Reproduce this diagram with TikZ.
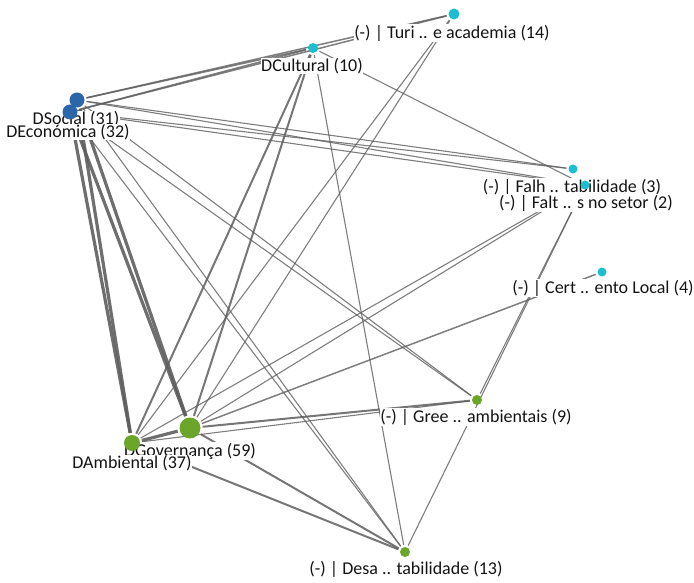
\documentclass[tikz,border=0pt]{standalone}
\usepackage{fontspec}
\setmainfont{Carlito}
\begin{document}
\pgfdeclarelayer{edges}
\pgfdeclarelayer{labelbg}
\pgfsetlayers{edges,labelbg,main}
\definecolor{dblue}{HTML}{2A66A8}
\definecolor{dcyan}{HTML}{1CBFD0}
\definecolor{dgreen}{HTML}{6BA52A}
\definecolor{edgegray}{HTML}{5E5E5E}
\begin{tikzpicture}[x=1pt,y=-1pt,
  dot/.style={circle,inner sep=0pt,draw=none},
  lbl/.style={font=\fontsize{18}{19}\selectfont,fill=white,inner sep=0.5pt,text=black!92},
  thin edge/.style={draw=edgegray,line width=1.1pt,opacity=0.8,shorten <=2pt,shorten >=2pt},
  mid edge/.style={draw=edgegray,line width=2.0pt,opacity=0.85,shorten <=2pt,shorten >=2pt},
  thick edge/.style={draw=edgegray,line width=3.2pt,opacity=0.9,shorten <=2pt,shorten >=2pt}]
\useasboundingbox (0,0) rectangle (694,583);

% vertices
\node[dot,fill=dblue,minimum size=15pt] (soc) at (77,100) {};
\node[dot,fill=dblue,minimum size=15pt] (eco) at (70,112) {};
\node[dot,fill=dcyan,minimum size=10pt] (cul) at (313,48) {};
\node[dot,fill=dcyan,minimum size=11pt] (turi) at (454,14) {};
\node[dot,fill=dcyan,minimum size=9pt] (falh) at (573,169) {};
\node[dot,fill=dcyan,minimum size=9pt] (falt) at (585,185) {};
\node[dot,fill=dcyan,minimum size=9pt] (cert) at (602,272) {};
\node[dot,fill=dgreen,minimum size=10pt] (gree) at (477,400) {};
\node[dot,fill=dgreen,minimum size=10pt] (desa) at (405,552) {};
\node[dot,fill=dgreen,minimum size=21pt] (gov) at (190,428) {};
\node[dot,fill=dgreen,minimum size=16pt] (amb) at (132,443) {};

% labels (white backing hides the connectors passing underneath)
\begin{pgfonlayer}{labelbg}
\node[lbl] (lsoc) at (76,119) {DSocial (31)};
\node[lbl] (leco) at (68,132) {DEconómica (32)};
\node[lbl] (lcul) at (312,66) {DCultural (10)};
\node[lbl] (lturi) at (452,33) {(-) | Turi .. e academia (14)};
\node[lbl] (lfalh) at (572,187) {(-) | Falh .. tabilidade (3)};
\node[lbl] (lfalt) at (586,203) {(-) | Falt .. s no setor (2)};
\node[lbl] (lcert) at (603,288) {(-) | Cert .. ento Local (4)};
\node[lbl] (lgree) at (476,417) {(-) | Gree .. ambientais (9)};
\node[lbl] (ldesa) at (406,569) {(-) | Desa .. tabilidade (13)};
\node[lbl] (lgov) at (190,451) {DGovernança (59)};
\node[lbl] (lamb) at (132,463) {DAmbiental (37)};
\end{pgfonlayer}

% connectors
\begin{pgfonlayer}{edges}
\draw[thick edge] (soc) -- (amb);
\draw[thick edge] (soc) -- (gov);
\draw[thick edge] (eco) -- (amb);
\draw[thick edge] (eco) -- (gov);
\draw[thick edge] (amb) -- (gov);

\draw[mid edge] (cul) -- (gov);
\draw[mid edge] (cul) -- (amb);
\draw[mid edge] (amb) -- (desa);
\draw[mid edge] (gov) -- (desa);
\draw[mid edge] (gree) -- (gov);
\draw[thin edge] (gree) -- (amb);

\draw[thin edge,line width=1.5pt] (soc) -- (turi);
\draw[thin edge,line width=1.5pt] (eco) -- (turi);
\draw[thin edge,line width=1.5pt] (soc) -- (cul);
\draw[thin edge,line width=1.5pt] (eco) -- (cul);
\draw[thin edge] (soc) -- (falh);
\draw[thin edge] (eco) -- (falh);
\draw[thin edge] (soc) -- (falt);
\draw[thin edge] (eco) -- (falt);
\draw[thin edge] (soc) -- (gree);
\draw[thin edge] (eco) -- (gree);
\draw[thin edge] (soc) -- (desa);
\draw[thin edge] (eco) -- (desa);
\draw[thin edge] (cul) -- (falt);
\draw[thin edge] (cul) -- (desa);
\draw[thin edge] (turi) -- (gov);
\draw[thin edge] (turi) -- (amb);
\draw[thin edge] (falt) -- (gov);
\draw[thin edge] (falt) -- (amb);
\draw[thin edge] (falt) -- (gree);
\draw[thin edge] (falt) -- (desa);
\draw[thin edge,line width=1.5pt] (cert) -- (gov);
\end{pgfonlayer}
\end{tikzpicture}
\end{document}
